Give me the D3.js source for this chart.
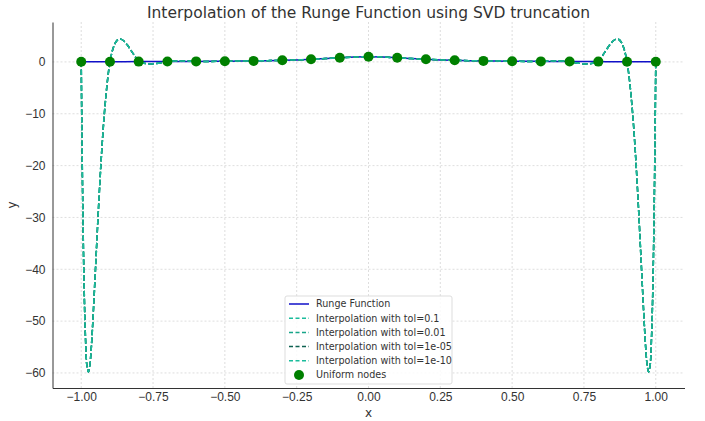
<!DOCTYPE html>
<html>
<head>
<meta charset="utf-8">
<script src="https://cdn.jsdelivr.net/npm/d3@7"></script>
<style>
  body { margin: 0; background: #fff; }
  svg { font-family: "DejaVu Sans", sans-serif; }
</style>
</head>
<body>
<svg width="705" height="421"></svg>
<script>
// values
var rungeX = [-1, -0.95, -0.9, -0.85, -0.8, -0.75, -0.7, -0.65, -0.6, -0.55, -0.5, -0.45, -0.4, -0.35, -0.3, -0.25, -0.2, -0.15, -0.1, -0.05,
  0, 0.05, 0.1, 0.15, 0.2, 0.25, 0.3, 0.35, 0.4, 0.45, 0.5, 0.55, 0.6, 0.65, 0.7, 0.75, 0.8, 0.85, 0.9, 0.95, 1];
var rungeY = [0.038, 0.042, 0.047, 0.052, 0.059, 0.066, 0.075, 0.086, 0.1, 0.117, 0.138, 0.165, 0.2, 0.246, 0.308, 0.39, 0.5, 0.64, 0.8, 0.941,
  1, 0.941, 0.8, 0.64, 0.5, 0.39, 0.308, 0.246, 0.2, 0.165, 0.138, 0.117, 0.1, 0.086, 0.075, 0.066, 0.059, 0.052, 0.047, 0.042, 0.038];

var interpX = [-1, -0.998, -0.995, -0.99, -0.985, -0.98, -0.975, -0.97, -0.965, -0.96, -0.95, -0.94, -0.93, -0.92, -0.91, -0.905, -0.9,
  -0.89, -0.88, -0.87, -0.86, -0.85, -0.84, -0.83, -0.82, -0.81, -0.8, -0.78, -0.76, -0.74, -0.72, -0.7, -0.65, -0.6, -0.55, -0.5,
  -0.45, -0.4, -0.35, -0.3, -0.25, -0.2, -0.15, -0.1, -0.05, 0,
  0.05, 0.1, 0.15, 0.2, 0.25, 0.3, 0.35, 0.4, 0.45, 0.5, 0.55, 0.6, 0.65, 0.7, 0.72, 0.74, 0.76, 0.78, 0.8,
  0.81, 0.82, 0.83, 0.84, 0.85, 0.86, 0.87, 0.88, 0.89, 0.9, 0.905, 0.91, 0.92, 0.93, 0.94, 0.95, 0.96, 0.965, 0.97, 0.975, 0.98,
  0.985, 0.99, 0.995, 0.998, 1];
var interpY = [0.04, -11.6, -26, -43.2, -53.5, -58.7, -59.8, -58.5, -55.2, -50.5, -39.5, -28.3, -18.4, -10.3, -4.3, -1.9, 0.05,
  2.43, 3.8, 4.37, 4.35, 3.95, 3.3, 2.5, 1.66, 0.83, 0.06, -0.27, -0.38, -0.31, -0.15, 0.1, 0.19, 0.1, 0.09, 0.138,
  0.165, 0.2, 0.246, 0.308, 0.39, 0.5, 0.64, 0.8, 0.941, 1,
  0.941, 0.8, 0.64, 0.5, 0.39, 0.308, 0.246, 0.2, 0.165, 0.138, 0.09, 0.1, 0.19, 0.1, -0.15, -0.31, -0.38, -0.27, 0.06,
  0.83, 1.66, 2.5, 3.3, 3.95, 4.35, 4.37, 3.8, 2.43, 0.05, -1.9, -4.3, -10.3, -18.4, -28.3, -39.5, -50.5, -55.2, -58.5, -59.8, -58.7,
  -53.5, -43.2, -26, -11.6, 0.04];

var nodeX = [-1, -0.9, -0.8, -0.7, -0.6, -0.5, -0.4, -0.3, -0.2, -0.1, 0, 0.1, 0.2, 0.3, 0.4, 0.5, 0.6, 0.7, 0.8, 0.9, 1];
var nodeY = [0.038, 0.047, 0.059, 0.075, 0.1, 0.138, 0.2, 0.308, 0.5, 0.8, 1, 0.8, 0.5, 0.308, 0.2, 0.138, 0.1, 0.075, 0.059, 0.047, 0.038];

var tolLabels = ["Interpolation with tol=0.1", "Interpolation with tol=0.01", "Interpolation with tol=1e-05", "Interpolation with tol=1e-10"];
var tolColors = ["#1abc9c", "#17a589", "#0e6251", "#1abc9c"];

var xTicks = [-1, -0.75, -0.5, -0.25, 0, 0.25, 0.5, 0.75, 1];
var yTicks = [0, -10, -20, -30, -40, -50, -60];

var svg = d3.select("svg");

var xScale = d3.scaleLinear().domain([-1.1, 1.1]).range([52.5, 684.5]);
var yScale = d3.scaleLinear().domain([-62.9, 7.7]).range([388, 22]);

// grid
svg.append("g").selectAll("line").data(xTicks).enter().append("line")
  .attr("x1", d => xScale(d)).attr("x2", d => xScale(d))
  .attr("y1", 22).attr("y2", 388)
  .style("stroke", "#d5d5d5").style("stroke-width", 0.8).style("stroke-dasharray", "2,2");
svg.append("g").selectAll("line").data(yTicks).enter().append("line")
  .attr("x1", 52.5).attr("x2", 684.5)
  .attr("y1", d => yScale(d)).attr("y2", d => yScale(d))
  .style("stroke", "#d5d5d5").style("stroke-width", 0.8).style("stroke-dasharray", "2,2");

// axes
var xAxis = d3.axisBottom(xScale).tickValues(xTicks).tickSize(0).tickPadding(4);
var yAxis = d3.axisLeft(yScale).tickValues(yTicks).tickFormat(d => d < 0 ? "\u2212" + Math.abs(d) : d).tickSize(0).tickPadding(7);

var gx = svg.append("g").attr("transform", "translate(0,388)").call(xAxis);
gx.selectAll("text").attr("dy", "0.75em").style("font-size", "12px").style("fill", "#333")
  .text(d => (d < 0 ? "\u2212" : "") + Math.abs(d).toFixed(2));
var gy = svg.append("g").attr("transform", "translate(52.5,0)").call(yAxis);
gy.selectAll("text").style("font-size", "12px").style("fill", "#333");
svg.selectAll(".domain").style("stroke", "#333").style("stroke-width", 1);

// curves
var line = d3.line().x(d => xScale(d[0])).y(d => yScale(d[1])).curve(d3.curveMonotoneX);

var rungeData = rungeX.map((x, i) => [x, rungeY[i]]);
var interpData = interpX.map((x, i) => [x, interpY[i]]);

svg.append("path").datum(rungeData).attr("d", line)
  .style("fill", "none").style("stroke", "#1010c8").style("stroke-width", 1.5);

tolLabels.forEach(function(lbl, i) {
  svg.append("path").datum(interpData).attr("d", d3.line().x(d => xScale(d[0])).y(d => yScale(d[1])).curve(d3.curveCatmullRom))
    .style("fill", "none").style("stroke", tolColors[i]).style("stroke-width", 1.5)
    .style("stroke-dasharray", "5.5,2.4");
});

svg.append("g").selectAll("circle").data(nodeX).enter().append("circle")
  .attr("cx", d => xScale(d))
  .attr("cy", (d, i) => yScale(nodeY[i]))
  .attr("r", 5)
  .style("fill", "#008000");

// title and labels
svg.append("text").attr("x", 368.5).attr("y", 18).attr("text-anchor", "middle")
  .style("font-size", "15.5px").style("fill", "#333")
  .text("Interpolation of the Runge Function using SVD truncation");
svg.append("text").attr("x", 368.5).attr("y", 417).attr("text-anchor", "middle")
  .style("font-size", "12px").style("fill", "#333").text("x");
svg.append("text").attr("transform", "translate(16,205)rotate(-90)").attr("text-anchor", "middle")
  .style("font-size", "12px").style("fill", "#333").text("y");

// legend
var legend = svg.append("g").attr("transform", "translate(285,296)");
legend.append("rect").attr("width", 167).attr("height", 88).attr("rx", 2)
  .style("fill", "white").style("fill-opacity", 0.85).style("stroke", "#ddd");

var items = [{label: "Runge Function", color: "#1010c8", type: "solid"}];
tolLabels.forEach((l, i) => items.push({label: l, color: tolColors[i], type: "dash"}));
items.push({label: "Uniform nodes", color: "#008000", type: "dot"});

items.forEach(function(it, i) {
  var y = 8 + i * 14.2;
  if (it.type === "dot") {
    legend.append("circle").attr("cx", 14).attr("cy", y).attr("r", 5).style("fill", it.color);
  } else {
    legend.append("line").attr("x1", 4).attr("x2", 24).attr("y1", y).attr("y2", y)
      .style("stroke", it.color).style("stroke-width", 1.5)
      .style("stroke-dasharray", it.type === "dash" ? "4,2.5" : null);
  }
  legend.append("text").attr("x", 31).attr("y", y).attr("dy", "0.35em")
    .style("font-size", "9.6px").style("fill", "#333").text(it.label);
});
</script>
</body>
</html>
